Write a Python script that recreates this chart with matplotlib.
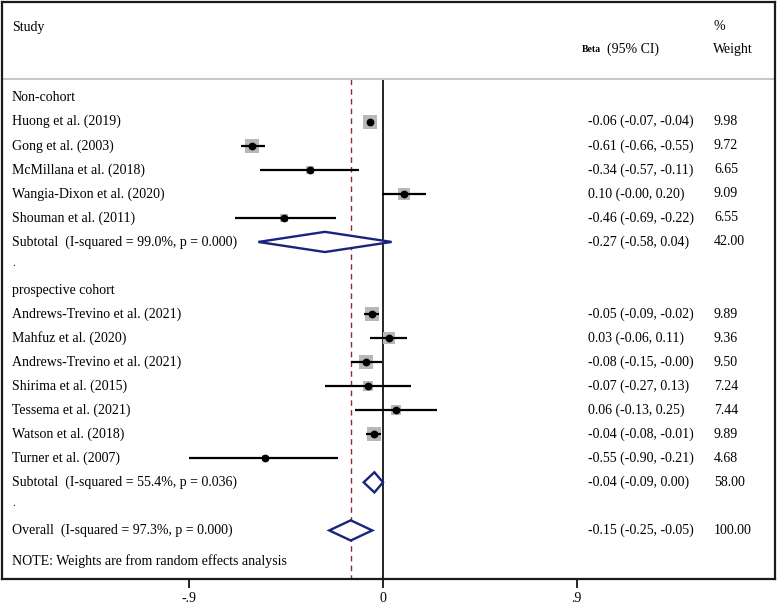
import matplotlib
matplotlib.use("Agg")
import matplotlib.pyplot as plt
from matplotlib.patches import Polygon

plt.rcParams['font.family'] = ['Liberation Serif', 'DejaVu Serif']

# ---------------- data ----------------
group_names = ["Non-cohort", "prospective cohort"]

noncohort_studies = ["Huong et al. (2019)", "Gong et al. (2003)", "McMillana et al. (2018)",
                     "Wangia-Dixon et al. (2020)", "Shouman et al. (2011)"]
noncohort_beta = [-0.06, -0.61, -0.34, 0.10, -0.46]
noncohort_lo = [-0.07, -0.66, -0.57, -0.004, -0.69]
noncohort_hi = [-0.04, -0.55, -0.11, 0.20, -0.22]
noncohort_w = [9.98, 9.72, 6.65, 9.09, 6.55]

cohort_studies = ["Andrews-Trevino et al. (2021)", "Mahfuz et al. (2020)", "Andrews-Trevino et al. (2021)",
                  "Shirima et al. (2015)", "Tessema et al. (2021)", "Watson et al. (2018)",
                  "Turner et al. (2007)"]
cohort_beta = [-0.05, 0.03, -0.08, -0.07, 0.06, -0.04, -0.55]
cohort_lo = [-0.09, -0.06, -0.15, -0.27, -0.13, -0.08, -0.90]
cohort_hi = [-0.02, 0.11, -0.004, 0.13, 0.25, -0.01, -0.21]
cohort_w = [9.89, 9.36, 9.50, 7.24, 7.44, 9.89, 4.68]

subtotal_beta = [-0.27, -0.04]
subtotal_lo = [-0.58, -0.09]
subtotal_hi = [0.04, 0.00]
subtotal_w = [42.00, 58.00]
subtotal_i2 = [99.0, 55.4]
subtotal_p = [0.000, 0.036]

overall_beta = -0.15
overall_lo = -0.25
overall_hi = -0.05
overall_w = 100.00
overall_i2 = 97.3
overall_p = 0.000

xtick_vals = [-0.9, 0, 0.9]
xtick_labels = ["-.9", "0", ".9"]

# ---------------- layout ----------------
W, H = 777, 605
X0_PX, PX_PER_UNIT = 383, 215      # pixel of zero, pixels per beta unit
ROW0_PX, ROW_PX = 97.7, 24.04      # first row pixel, row spacing
BOX_L, BOX_R, BOX_T, BOX_B = 2, 775, 2, 579

def px2x(px):
    return (px - X0_PX) / PX_PER_UNIT

def py2y(py):
    return (py - ROW0_PX) / ROW_PX

fig = plt.figure(figsize=(W / 100, H / 100), dpi=100)
ax = fig.add_axes([BOX_L / W, (H - BOX_B) / H, (BOX_R - BOX_L) / W, (BOX_B - BOX_T) / H])
ax.set_xlim(px2x(BOX_L), px2x(BOX_R))
ylo, yhi = py2y(BOX_B), py2y(BOX_T)
ax.set_ylim(ylo, yhi)

FS = 10
X_TEXT = px2x(12)
X_CI = px2x(588)
X_W = px2x(714)
sep_y = py2y(79)

def fmt_ci(b, lo, hi):
    return f"{b:.2f} ({lo:.2f}, {hi:.2f})"

def draw_study(row, b, lo, hi, w, name):
    ax.plot([lo, hi], [row, row], color='black', lw=1.6, solid_capstyle='butt', zorder=3)
    side_px = 1.6 * w - 2.0
    ax.plot([b], [row], marker='s', markersize=side_px * 0.72, color='#b8b8b8',
            markeredgewidth=0, linestyle='none', zorder=2)
    ax.plot([b], [row], marker='o', markersize=4.6, color='black', linestyle='none', zorder=4)
    ax.text(X_TEXT, row, name, fontsize=FS, va='center', ha='left')
    ax.text(X_CI, row, fmt_ci(b, lo, hi), fontsize=FS, va='center', ha='left')
    ax.text(X_W, row, f"{w:.2f}", fontsize=FS, va='center', ha='left')

def draw_diamond(row, b, lo, hi, w, label):
    hh = 0.42
    poly = Polygon([[lo, row], [b, row - hh], [hi, row], [b, row + hh]], closed=True,
                   facecolor='white', edgecolor='#1a237e', lw=1.7, zorder=5)
    ax.add_patch(poly)
    ax.text(X_TEXT, row, label, fontsize=FS, va='center', ha='left')
    ax.text(X_CI, row, fmt_ci(b, lo, hi), fontsize=FS, va='center', ha='left')
    ax.text(X_W, row, f"{w:.2f}", fontsize=FS, va='center', ha='left')

groups = [
    (noncohort_studies, noncohort_beta, noncohort_lo, noncohort_hi, noncohort_w),
    (cohort_studies, cohort_beta, cohort_lo, cohort_hi, cohort_w),
]

row = 0
for gi, (names, bs, los, his, ws) in enumerate(groups):
    ax.text(X_TEXT, row, group_names[gi], fontsize=FS, va='center', ha='left')
    row += 1
    for n, b, lo, hi, w in zip(names, bs, los, his, ws):
        draw_study(row, b, lo, hi, w, n)
        row += 1
    draw_diamond(row, subtotal_beta[gi], subtotal_lo[gi], subtotal_hi[gi], subtotal_w[gi],
                 f"Subtotal  (I-squared = {subtotal_i2[gi]:.1f}%, p = {subtotal_p[gi]:.3f})")
    row += 1
    ax.text(X_TEXT, row - 0.1, ".", fontsize=FS - 2, va='center', ha='left')
    row += 1

draw_diamond(row, overall_beta, overall_lo, overall_hi, overall_w,
             f"Overall  (I-squared = {overall_i2:.1f}%, p = {overall_p:.3f})")

ax.text(X_TEXT, py2y(561), "NOTE: Weights are from random effects analysis", fontsize=FS,
        va='center', ha='left')

# reference lines
ax.vlines(0, sep_y, ylo, color='black', lw=1.2, zorder=1)
ax.vlines(overall_beta, sep_y, ylo, color='#962832', lw=1.0, linestyles=(0, (4, 3)), zorder=1)

# header
ax.axhline(sep_y, color='#c8c8c8', lw=1.5, zorder=1)
ax.text(X_TEXT, py2y(27), "Study", fontsize=FS, va='center', ha='left')
ax.text(px2x(582), py2y(50), "Beta", fontsize=7, fontweight='bold', va='center', ha='left')
ax.text(px2x(607), py2y(49), "(95% CI)", fontsize=FS, va='center', ha='left')
ax.text(px2x(713), py2y(27), "%", fontsize=FS, va='center', ha='left')
ax.text(px2x(713), py2y(49), "Weight", fontsize=FS, va='center', ha='left')

# axes styling
for s in ax.spines.values():
    s.set_linewidth(1.6)
    s.set_color('#1a1a1a')
ax.set_yticks([])
ax.set_xticks(xtick_vals)
ax.set_xticklabels(xtick_labels)
ax.tick_params(axis='x', direction='out', length=6.5, width=1.2, pad=3, labelsize=FS)

fig.savefig("out.png", dpi=100, facecolor='white')
